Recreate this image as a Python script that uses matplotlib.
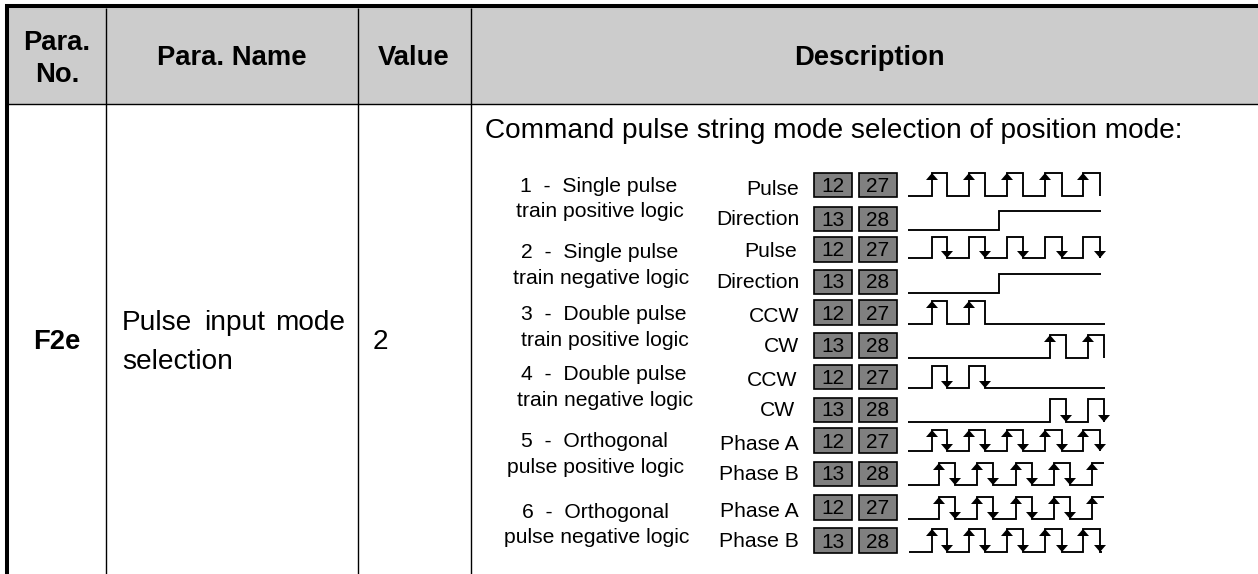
#!/usr/bin/env python
# -*- coding: utf-8 -*-
"""Parameter table row for the pulse input mode, with the timing diagrams."""

import matplotlib
matplotlib.use("Agg")
import matplotlib.pyplot as plt

WIDTH, HEIGHT = 1258, 574
FONT = ["Liberation Sans", "DejaVu Sans"]

header_labels = ["Para.", "No.", "Para. Name", "Value", "Description"]
header_x = [57, 57, 232, 414, 869]
header_base = [50, 82, 65, 65, 65]
column_lines = [106.3, 358.3, 471.2]
header_bottom = 104
para_no = "F2e"
para_name_words = ["Pulse", "input", "mode", "selection"]
para_name_x = [122, 204, 275, 122]
para_name_base = [330, 330, 330, 369]
para_value = "2"
description = "Command pulse string mode selection of position mode:"

mode_lines = [
    "1  -  Single pulse", "train positive logic",
    "2  -  Single pulse", "train negative logic",
    "3  -  Double pulse", "train positive logic",
    "4  -  Double pulse", "train negative logic",
    "5  -  Orthogonal", "pulse positive logic",
    "6  -  Orthogonal", "pulse negative logic",
]
mode_x = [520, 516, 521, 513, 521, 521, 521, 517, 521, 507, 522, 504]
mode_base = [192, 217, 258, 284, 320, 346, 380, 406, 447, 473, 518, 543]

signal_names = ["Pulse", "Direction", "Pulse", "Direction", "CCW", "CW",
                "CCW", "CW", "Phase A", "Phase B", "Phase A", "Phase B"]
signal_right = [799, 800, 797, 800, 799, 799, 797, 795, 799, 799, 799, 799]
signal_base = [195, 225, 257, 288, 322, 352, 386, 416, 450, 480, 517, 547]
pin_labels = [("12", "27"), ("13", "28")] * 6
box_top = [173, 207, 237, 270, 300, 333, 365, 398, 428, 462, 495, 528]
box_bottom = [197, 231, 262, 294, 325, 358, 389, 422, 453, 486, 520, 553]

# wave level in pixels, and the edges of each wave
wave_high = [173, 211, 237, 274, 301, 335, 366, 399, 430, 463, 497, 529]
wave_low = [196, 230, 258, 293, 324, 358, 388, 422, 451, 485, 519, 552]
train_a = [932, 947, 969, 985, 1007, 1023, 1045, 1062, 1083, 1100]
train_b = [939, 955, 977, 993, 1016, 1032, 1054, 1070, 1092]
wave_edges = [train_a, [999], train_a, [999],
              [932, 947, 969, 985], [1050, 1066, 1088, 1104],
              [932, 947, 969, 985], [1050, 1066, 1088, 1104],
              train_a, train_b, train_b, train_a]
wave_start = [908, 908, 908, 908, 908, 908, 908, 908, 908, 908, 908, 909]
wave_end = [1100, 1101, 1100, 1101, 1105, 1104, 1105, 1104, 1100, 1104, 1104, 1102]
arrow_up = [True, False, False, False, True, True, False, False, True, True, True, True]
arrow_down = [False, False, True, False, False, False, True, True, True, True, True, True]


def draw_wave(ax, i):
    edges = wave_edges[i]
    high, low = wave_high[i], wave_low[i]
    xs, ys = [wave_start[i]], [low]
    level = low
    for x in edges:
        xs += [x, x]
        next_level = high if level == low else low
        ys += [level, next_level]
        level = next_level
    if xs[-1] < wave_end[i]:
        xs.append(wave_end[i])
        ys.append(level)
    ax.plot(xs, ys, color="black", lw=1.35, solid_joinstyle="miter", solid_capstyle="butt")
    for n, x in enumerate(edges):
        if n % 2 == 0 and arrow_up[i]:
            ax.fill([x - 6, x + 6, x], [high + 7, high + 7, high], color="black", lw=0)
        if n % 2 == 1 and arrow_down[i]:
            ax.fill([x - 6, x + 6, x], [low - 7, low - 7, low], color="black", lw=0)


def main():
    fig = plt.figure(figsize=(WIDTH / 100, HEIGHT / 100), dpi=100)
    ax = fig.add_axes([0, 0, 1, 1])
    ax.set_xlim(0, WIDTH)
    ax.set_ylim(HEIGHT, 0)
    ax.axis("off")

    ax.fill_between([8, WIDTH], 8, header_bottom, color="#cccccc", lw=0)

    # table rules
    ax.plot([5, WIDTH], [6, 6], color="black", lw=2.9, solid_capstyle="butt")
    ax.plot([7, 7], [4, HEIGHT], color="black", lw=2.9, solid_capstyle="butt")
    ax.plot([8, WIDTH], [header_bottom, header_bottom], color="black", lw=1, solid_capstyle="butt")
    for x in column_lines:
        ax.plot([x, x], [8, HEIGHT], color="black", lw=1, solid_capstyle="butt")

    for x, y, label in zip(header_x, header_base, header_labels):
        ax.text(x, y, label, ha="center", va="baseline", fontsize=19.7, fontweight="bold", family=FONT)

    ax.text(57, 349, para_no, ha="center", va="baseline", fontsize=19.7, fontweight="bold", family=FONT)
    for x, y, word in zip(para_name_x, para_name_base, para_name_words):
        ax.text(x, y, word, ha="left", va="baseline", fontsize=20.2, family=FONT)
    ax.text(373, 349, para_value, ha="left", va="baseline", fontsize=20.2, family=FONT)
    ax.text(485, 138, description, ha="left", va="baseline", fontsize=20.2, family=FONT)

    for x, y, line in zip(mode_x, mode_base, mode_lines):
        ax.text(x, y, line, ha="left", va="baseline", fontsize=15.2, family=FONT)

    for i, name in enumerate(signal_names):
        ax.text(signal_right[i], signal_base[i], name, ha="right", va="baseline", fontsize=15.2, family=FONT)
        for x0, pin in zip([814, 859], pin_labels[i]):
            ax.fill([x0, x0 + 38, x0 + 38, x0], [box_top[i], box_top[i], box_bottom[i], box_bottom[i]],
                    facecolor="#808080", edgecolor="black", lw=1.2)
            ax.text(x0 + 19, box_bottom[i] - 5.5, pin, ha="center", va="baseline", fontsize=15, family=FONT)
        draw_wave(ax, i)

    fig.savefig("out.png", dpi=100)
    plt.close(fig)


if __name__ == "__main__":
    main()
